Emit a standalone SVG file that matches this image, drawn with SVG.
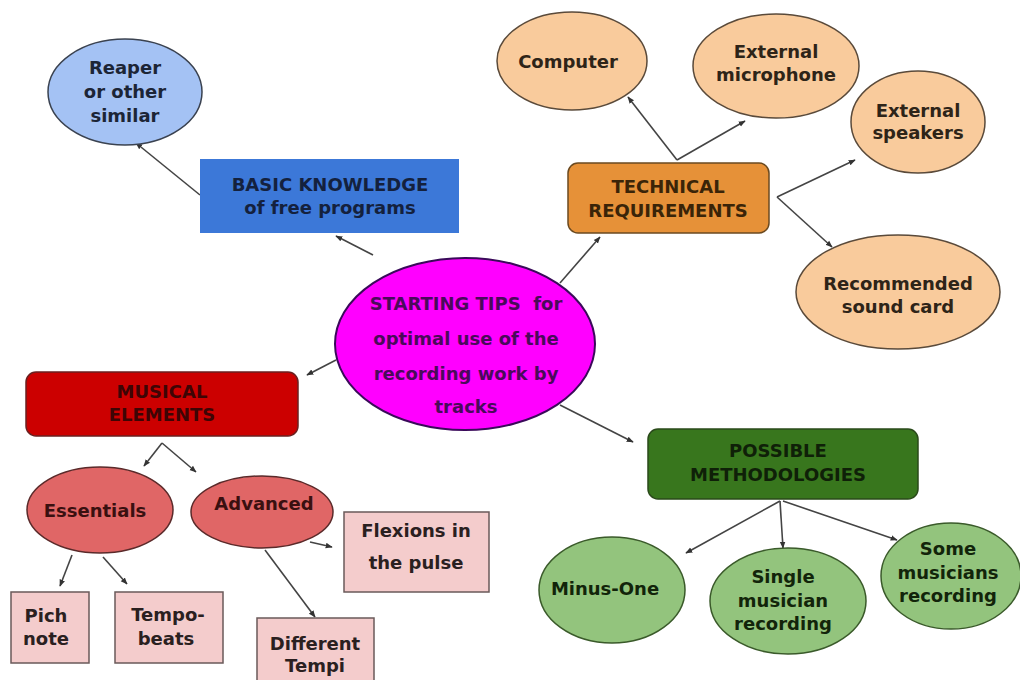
<svg xmlns="http://www.w3.org/2000/svg" width="1020" height="680" viewBox="0 0 1020 680">
<defs>
<marker id="ah" viewBox="0 0 10 10" refX="9" refY="5" markerWidth="7" markerHeight="7" orient="auto" markerUnits="userSpaceOnUse">
<path d="M0,1 L10,5 L0,9 Z" fill="#333"/>
</marker>
<style>
text{font-family:"DejaVu Sans","Liberation Sans",sans-serif;font-weight:bold;font-size:18px;text-anchor:middle}
.c line,.c polyline{stroke:#444;stroke-width:1.6;fill:none;marker-end:url(#ah)}
.sk{stroke:#5a5a5a;stroke-width:1.5}
</style>
</defs>
<rect width="1020" height="680" fill="#fff"/>

<g class="c" id="connectors">
<line x1="200" y1="195" x2="136" y2="143"/>
<line x1="373" y1="255" x2="336" y2="236"/>
<line x1="560" y1="283" x2="600" y2="237"/>
<line x1="677" y1="160" x2="628" y2="97"/>
<line x1="677" y1="160" x2="745" y2="121"/>
<line x1="777" y1="197" x2="855" y2="160"/>
<line x1="777" y1="197" x2="832" y2="247"/>
<line x1="336" y1="360" x2="307" y2="375"/>
<line x1="162" y1="443" x2="144" y2="466"/>
<line x1="162" y1="443" x2="196" y2="472"/>
<line x1="310" y1="542" x2="332" y2="547"/>
<line x1="72" y1="555" x2="60" y2="586"/>
<line x1="103" y1="557" x2="127" y2="584"/>
<line x1="265" y1="550" x2="315" y2="617"/>
<line x1="560" y1="405" x2="633" y2="442"/>
<line x1="780" y1="501" x2="686" y2="553"/>
<line x1="780" y1="501" x2="783" y2="548"/>
<line x1="783" y1="501" x2="897" y2="540"/>
</g>

<g id="reaper">
<ellipse cx="125" cy="92" rx="77" ry="53" fill="#a4c2f4" stroke="#3a4250" stroke-width="1.5"/>
<text x="125" y="74" fill="#1c2536">Reaper</text>
<text x="125" y="98" fill="#1c2536">or other</text>
<text x="125" y="122" fill="#1c2536">similar</text>
</g>

<g id="basic">
<rect x="200" y="159" width="259" height="74" fill="#3c78d8"/>
<text x="330" y="191" fill="#14213d">BASIC KNOWLEDGE</text>
<text x="330" y="214" fill="#14213d">of free programs</text>
</g>

<g id="technical">
<rect x="568" y="163" width="201" height="70" rx="10" fill="#e69138" stroke="#6b4a20" stroke-width="1.5"/>
<text x="668" y="193" fill="#3a2408">TECHNICAL</text>
<text x="668" y="217" fill="#3a2408">REQUIREMENTS</text>
</g>

<g id="computer">
<ellipse cx="572" cy="61" rx="75" ry="49" fill="#f9cb9c" stroke="#5a4a3a" stroke-width="1.5"/>
<text x="568" y="68" fill="#2e2418">Computer</text>
</g>

<g id="microphone">
<ellipse cx="776" cy="66" rx="83" ry="52" fill="#f9cb9c" stroke="#5a4a3a" stroke-width="1.5"/>
<text x="776" y="58" fill="#2e2418">External</text>
<text x="776" y="81" fill="#2e2418">microphone</text>
</g>

<g id="speakers">
<ellipse cx="918" cy="122" rx="67" ry="51" fill="#f9cb9c" stroke="#5a4a3a" stroke-width="1.5"/>
<text x="918" y="117" fill="#2e2418">External</text>
<text x="918" y="139" fill="#2e2418">speakers</text>
</g>

<g id="soundcard">
<ellipse cx="898" cy="292" rx="102" ry="57" fill="#f9cb9c" stroke="#5a4a3a" stroke-width="1.5"/>
<text x="898" y="290" fill="#2e2418">Recommended</text>
<text x="898" y="313" fill="#2e2418">sound card</text>
</g>

<g id="center">
<ellipse cx="465" cy="344" rx="130" ry="86" fill="#ff00ff" stroke="#3a0a5a" stroke-width="2"/>
<text x="466" y="310" fill="#4a0a5a" xml:space="preserve">STARTING TIPS  for</text>
<text x="466" y="345" fill="#4a0a5a">optimal use of the</text>
<text x="466" y="380" fill="#4a0a5a">recording work by</text>
<text x="466" y="413" fill="#4a0a5a">tracks</text>
</g>

<g id="musical">
<rect x="26" y="372" width="272" height="64" rx="10" fill="#cc0000" stroke="#6a2020" stroke-width="1.5"/>
<text x="162" y="398" fill="#3d0505">MUSICAL</text>
<text x="162" y="421" fill="#3d0505">ELEMENTS</text>
</g>

<g id="essentials">
<ellipse cx="100" cy="510" rx="73" ry="43" fill="#e06666" stroke="#5a2a2a" stroke-width="1.5"/>
<text x="95" y="517" fill="#3a1010">Essentials</text>
</g>

<g id="advanced">
<ellipse cx="262" cy="512" rx="71" ry="36" fill="#e06666" stroke="#5a2a2a" stroke-width="1.5"/>
<text x="264" y="510" fill="#3a1010">Advanced</text>
</g>

<g id="flexions">
<rect x="344" y="512" width="145" height="80" fill="#f4cccc" stroke="#6a5a5a" stroke-width="1.5"/>
<text x="416" y="537" fill="#2a2020">Flexions in</text>
<text x="416" y="569" fill="#2a2020">the pulse</text>
</g>

<g id="pich">
<rect x="11" y="592" width="78" height="71" fill="#f4cccc" stroke="#6a5a5a" stroke-width="1.5"/>
<text x="46" y="622" fill="#2a2020">Pich</text>
<text x="46" y="645" fill="#2a2020">note</text>
</g>

<g id="tempo">
<rect x="115" y="592" width="108" height="71" fill="#f4cccc" stroke="#6a5a5a" stroke-width="1.5"/>
<text x="168" y="621" fill="#2a2020">Tempo-</text>
<text x="166" y="645" fill="#2a2020">beats</text>
</g>

<g id="different">
<rect x="257" y="618" width="117" height="70" fill="#f4cccc" stroke="#6a5a5a" stroke-width="1.5"/>
<text x="315" y="650" fill="#2a2020">Different</text>
<text x="315" y="672" fill="#2a2020">Tempi</text>
</g>

<g id="possible">
<rect x="648" y="429" width="270" height="70" rx="10" fill="#38761d" stroke="#2a4a1a" stroke-width="1.5"/>
<text x="778" y="457" fill="#0f2008">POSSIBLE</text>
<text x="778" y="481" fill="#0f2008">METHODOLOGIES</text>
</g>

<g id="minusone">
<ellipse cx="612" cy="590" rx="73" ry="53" fill="#93c47d" stroke="#3a5a2a" stroke-width="1.5"/>
<text x="605" y="595" fill="#12240a">Minus-One</text>
</g>

<g id="single">
<ellipse cx="788" cy="601" rx="78" ry="53" fill="#93c47d" stroke="#3a5a2a" stroke-width="1.5"/>
<text x="783" y="583" fill="#12240a">Single</text>
<text x="783" y="607" fill="#12240a">musician</text>
<text x="783" y="630" fill="#12240a">recording</text>
</g>

<g id="some">
<ellipse cx="951" cy="576" rx="70" ry="53" fill="#93c47d" stroke="#3a5a2a" stroke-width="1.5"/>
<text x="948" y="555" fill="#12240a">Some</text>
<text x="948" y="579" fill="#12240a">musicians</text>
<text x="948" y="602" fill="#12240a">recording</text>
</g>
</svg>
